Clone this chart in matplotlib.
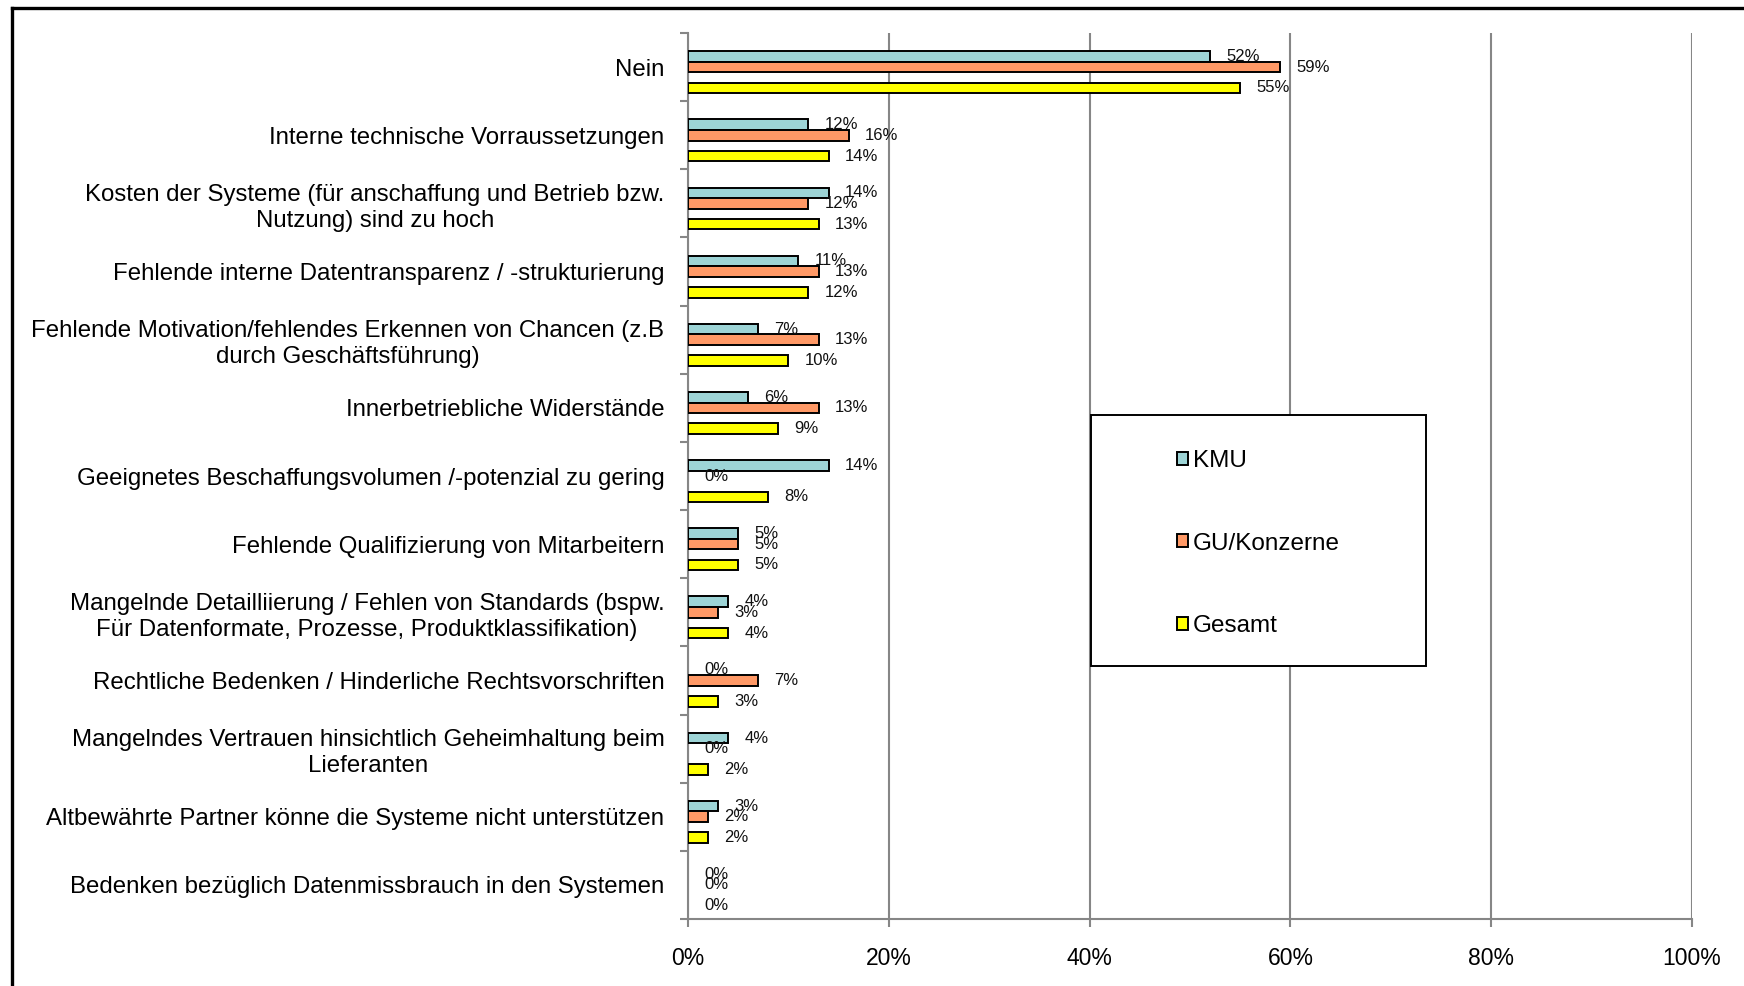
import matplotlib
matplotlib.use("Agg")
import matplotlib.pyplot as plt
from matplotlib.patches import Rectangle
from matplotlib.lines import Line2D
import numpy as np

plt.rcParams['font.family'] = ['Liberation Sans', 'DejaVu Sans']

categories = [
    "Nein",
    "Interne technische Vorraussetzungen",
    "Kosten der Systeme (für anschaffung und Betrieb bzw.\nNutzung) sind zu hoch",
    "Fehlende interne Datentransparenz / -strukturierung",
    "Fehlende Motivation/fehlendes Erkennen von Chancen (z.B\ndurch Geschäftsführung)",
    "Innerbetriebliche Widerstände",
    "Geeignetes Beschaffungsvolumen /-potenzial zu gering",
    "Fehlende Qualifizierung von Mitarbeitern",
    "Mangelnde Detailliierung / Fehlen von Standards (bspw.\nFür Datenformate, Prozesse, Produktklassifikation)",
    "Rechtliche Bedenken / Hinderliche Rechtsvorschriften",
    "Mangelndes Vertrauen hinsichtlich Geheimhaltung beim\nLieferanten",
    "Altbewährte Partner könne die Systeme nicht unterstützen",
    "Bedenken bezüglich Datenmissbrauch in den Systemen",
]
series_names = ["KMU", "GU/Konzerne", "Gesamt"]
kmu = [52, 12, 14, 11, 7, 6, 14, 5, 4, 0, 4, 3, 0]
gu = [59, 16, 12, 13, 13, 13, 0, 5, 3, 7, 0, 2, 0]
gesamt = [55, 14, 13, 12, 10, 9, 8, 5, 4, 3, 2, 2, 0]
x_ticks = [0, 20, 40, 60, 80, 100]
x_tick_labels = ["0%", "20%", "40%", "60%", "80%", "100%"]

colors = ["#9DD4D6", "#FF9966", "#FFFF00"]
offsets = [-0.155, 0.0, 0.305]
bar_h = 0.155

W, H = 1744, 986
fig = plt.figure(figsize=(W / 100, H / 100), dpi=100)
ax = fig.add_axes([688 / W, 1 - 919 / H, (1692 - 688) / W, (919 - 33) / H])

n = len(categories)
ypos = np.arange(n)
handles = []
for vals, off, col, name in zip([kmu, gu, gesamt], offsets, colors, series_names):
    ec = ['black' if v > 0 else 'none' for v in vals]
    b = ax.barh(ypos + off, vals, height=bar_h, color=col, edgecolor=ec,
                linewidth=1.4, label=name, zorder=3)
    handles.append(b)
    for y, v in zip(ypos + off, vals):
        ax.annotate(f"{v}%", xy=(v, y), xytext=(16, 0), textcoords='offset pixels',
                    ha='left', va='center', fontsize=12, color='#111111', zorder=4)

ax.set_xlim(0, 100)
ax.set_ylim(n - 0.5, -0.5)
ax.set_xticks(x_ticks)
ax.set_xticklabels(x_tick_labels, fontsize=16.5)
ax.tick_params(axis='x', length=6, width=1.5, color='#868686', pad=14, direction='out')

ax.set_yticks(np.arange(n + 1) - 0.5)
ax.set_yticklabels([])
ax.tick_params(axis='y', which='major', length=6, width=1.5, color='#868686', direction='out')
ax.set_yticks(ypos, minor=True)
ax.set_yticklabels(categories, minor=True, fontsize=17.3, multialignment='center',
                   linespacing=1.25)
ax.tick_params(axis='y', which='minor', length=0, pad=17)

ax.grid(axis='x', color='#868686', linewidth=1.5, zorder=0)
ax.set_axisbelow(True)
for s in ['top', 'right']:
    ax.spines[s].set_visible(False)
for s in ['left', 'bottom']:
    ax.spines[s].set_color('#868686')
    ax.spines[s].set_linewidth(1.5)

# Legend box
lx0, ly0, lx1, ly1 = 1091, 415, 1426, 666
fig.patches.append(Rectangle((lx0 / W, 1 - ly1 / H), (lx1 - lx0) / W, (ly1 - ly0) / H,
                             transform=fig.transFigure, facecolor='white',
                             edgecolor='black', linewidth=1.4, zorder=5))
leg = fig.legend(handles=handles, labels=series_names, loc='center',
                 bbox_to_anchor=((lx0 + lx1) / 2 / W, 1 - ((ly0 + ly1) / 2 + 3) / H),
                 frameon=False, fontsize=17.5, handlelength=0.45, handleheight=0.45,
                 handletextpad=0.2, labelspacing=2.5)
leg.set_zorder(6)

# Figure border (partially cut by image edge)
fig.add_artist(Line2D([12 / W, 1.0], [1 - 8 / H, 1 - 8 / H], transform=fig.transFigure,
                      color='black', linewidth=2.4))
fig.add_artist(Line2D([12 / W, 12 / W], [0.0, 1 - 8 / H], transform=fig.transFigure,
                      color='black', linewidth=2.4))

fig.savefig("out.png", dpi=100, facecolor='white')
